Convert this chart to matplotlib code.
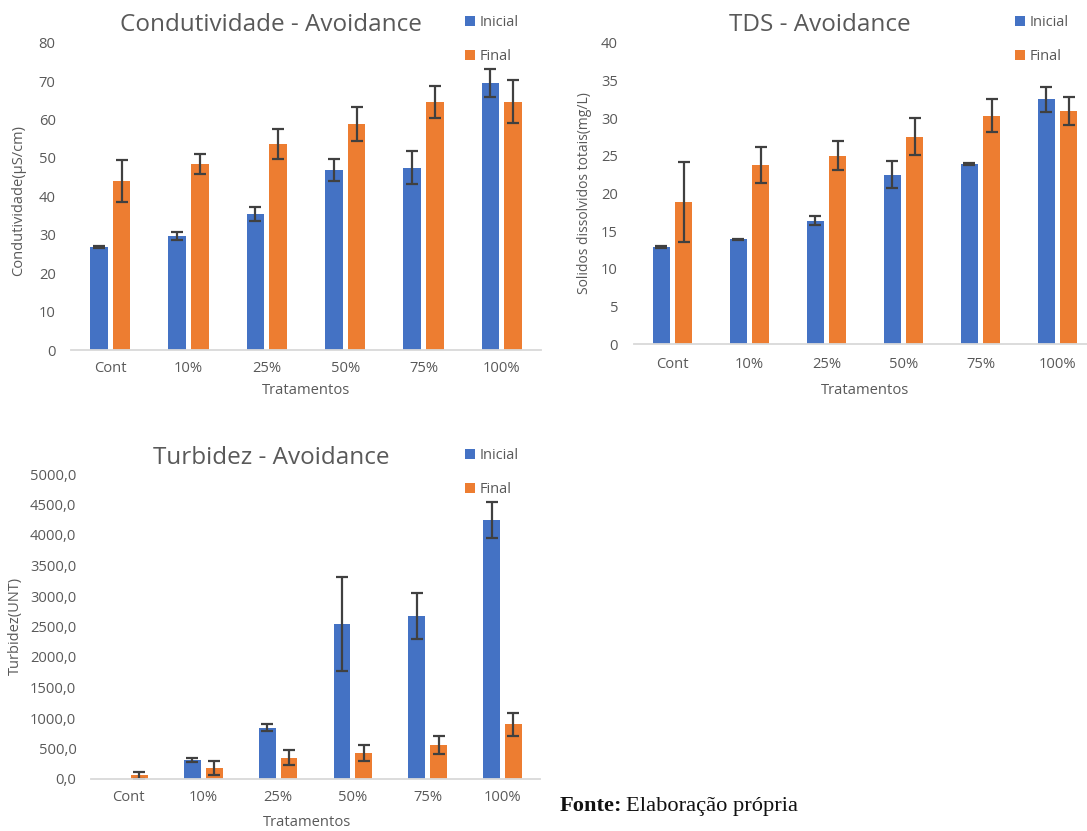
import matplotlib
matplotlib.use("Agg")
import matplotlib.pyplot as plt
import numpy as np
from matplotlib.ticker import FuncFormatter, MultipleLocator
from matplotlib.patches import Patch

plt.rcParams['font.family'] = ['Open Sans', 'DejaVu Sans']

categories = ["Cont", "10%", "25%", "50%", "75%", "100%"]

# Condutividade (µS/cm)
cond_inicial = [26.9, 29.6, 35.4, 46.9, 47.5, 69.5]
cond_inicial_err = [0.3, 1.0, 1.9, 2.8, 4.3, 3.7]
cond_final = [44.0, 48.4, 53.6, 58.8, 64.6, 64.6]
cond_final_err = [5.4, 2.5, 4.0, 4.5, 4.2, 5.6]

# Sólidos dissolvidos totais (mg/L)
tds_inicial = [12.9, 13.9, 16.4, 22.5, 23.9, 32.5]
tds_inicial_err = [0.1, 0.1, 0.6, 1.75, 0.1, 1.65]
tds_final = [18.9, 23.8, 25.0, 27.5, 30.3, 31.0]
tds_final_err = [5.3, 2.4, 1.9, 2.45, 2.2, 1.85]

# Turbidez (UNT); no reading for the control at the start
turb_inicial = [0.0, 311, 842, 2541, 2667, 4251]
turb_inicial_err = [np.nan, 40, 60, 770, 380, 295]
turb_final = [60, 180, 350, 426, 557, 896]
turb_final_err = [60, 110, 120, 130, 155, 190]

BLUE = "#4472C4"
ORANGE = "#ED7D31"
TEXT = "#595959"
AXIS = "#D9D9D9"
ERR = "#404040"

W, H = 1087, 831
fig = plt.figure(figsize=(W / 100, H / 100), dpi=100)
fig.patch.set_facecolor("white")


def px_axes(left, right, top, bottom):
    return fig.add_axes([left / W, 1 - bottom / H, (right - left) / W, (bottom - top) / H])


def draw_panel(ax, inicial, inicial_err, final, final_err, ymax, ystep, fmt,
               ypad, xpad, width=0.225, off=0.145):
    x = np.arange(len(categories))
    ekw = dict(ecolor=ERR, elinewidth=1.6, capsize=4.3, capthick=1.6)
    ax.bar(x - off, inicial, width, color=BLUE, yerr=inicial_err, error_kw=ekw, zorder=2)
    ax.bar(x + off, final, width, color=ORANGE, yerr=final_err, error_kw=ekw, zorder=2)
    ax.set_xlim(-0.5, len(categories) - 0.5)
    ax.set_ylim(0, ymax)
    ax.yaxis.set_major_locator(MultipleLocator(ystep))
    ax.yaxis.set_major_formatter(FuncFormatter(fmt))
    ax.set_xticks(x)
    ax.set_xticklabels(categories)
    for s in ["top", "right", "left"]:
        ax.spines[s].set_visible(False)
    ax.spines["bottom"].set_color(AXIS)
    ax.spines["bottom"].set_linewidth(1.3)
    ax.tick_params(axis="both", length=0, colors=TEXT, labelsize=10.6)
    ax.tick_params(axis="y", pad=ypad)
    ax.tick_params(axis="x", pad=xpad)
    ax.set_facecolor("none")


def legend_at(x, y):
    handles = [Patch(facecolor=BLUE, edgecolor="none", label="Inicial"),
               Patch(facecolor=ORANGE, edgecolor="none", label="Final")]
    fig.legend(handles=handles, loc="upper left", bbox_to_anchor=(x / W, 1 - y / H),
               frameon=False, handlelength=0.68, handleheight=0.68, handletextpad=0.3,
               labelspacing=1.3, fontsize=10.5, labelcolor=TEXT, borderpad=0)


# Condutividade
ax1 = px_axes(71, 541, 42.7, 350)
draw_panel(ax1, cond_inicial, cond_inicial_err, cond_final, cond_final_err,
           80, 10, lambda v, p: f"{v:.0f}", ypad=11, xpad=8)
fig.text(271 / W, 1 - 25 / H, "Condutividade - Avoidance", ha="center", va="center",
         fontsize=17.5, color=TEXT)
fig.text(19 / W, 1 - 200 / H, "Condutividade(µS/cm)", rotation=90, ha="center",
         va="center", fontsize=10.5, color=TEXT)
fig.text(306 / W, 1 - 391 / H, "Tratamentos", ha="center", va="center",
         fontsize=10.6, color=TEXT)
legend_at(458, 8)

# TDS
ax2 = px_axes(634, 1096, 42.7, 344.3)
draw_panel(ax2, tds_inicial, tds_inicial_err, tds_final, tds_final_err,
           40, 5, lambda v, p: f"{v:.0f}", ypad=11.5, xpad=9)
fig.text(820 / W, 1 - 25 / H, "TDS - Avoidance", ha="center", va="center",
         fontsize=17.5, color=TEXT)
fig.text(585 / W, 1 - 193 / H, "Solidos dissolvidos totais(mg/L)", rotation=90,
         ha="center", va="center", fontsize=10, color=TEXT)
fig.text(865 / W, 1 - 391 / H, "Tratamentos", ha="center", va="center",
         fontsize=10.6, color=TEXT)
legend_at(1008, 8)

# Turbidez
ax3 = px_axes(91, 540, 474, 779)
draw_panel(ax3, turb_inicial, turb_inicial_err, turb_final, turb_final_err,
           5000, 500, lambda v, p: f"{v:.1f}".replace(".", ","), ypad=10.5, xpad=8)
fig.text(271 / W, 1 - 458 / H, "Turbidez - Avoidance", ha="center", va="center",
         fontsize=17.5, color=TEXT)
fig.text(15 / W, 1 - 626 / H, "Turbidez(UNT)", rotation=90, ha="center",
         va="center", fontsize=10.5, color=TEXT)
fig.text(307 / W, 1 - 822 / H, "Tratamentos", ha="center", va="center",
         fontsize=10.6, color=TEXT)
legend_at(458, 441)

# Source note
src_y = 1 - 806 / H
serif = ["Liberation Serif", "DejaVu Serif"]
t1 = fig.text(560 / W, src_y, "Fonte:", ha="left", va="center", fontsize=16.2,
              fontweight="bold", family=serif, color="#111111")
fig.canvas.draw()
bb = t1.get_window_extent()
fig.text((bb.x1 + 3) / W, src_y, "Elaboração própria", ha="left", va="center",
         fontsize=16.2, family=serif, color="#111111")

fig.savefig("out.png", dpi=100)
